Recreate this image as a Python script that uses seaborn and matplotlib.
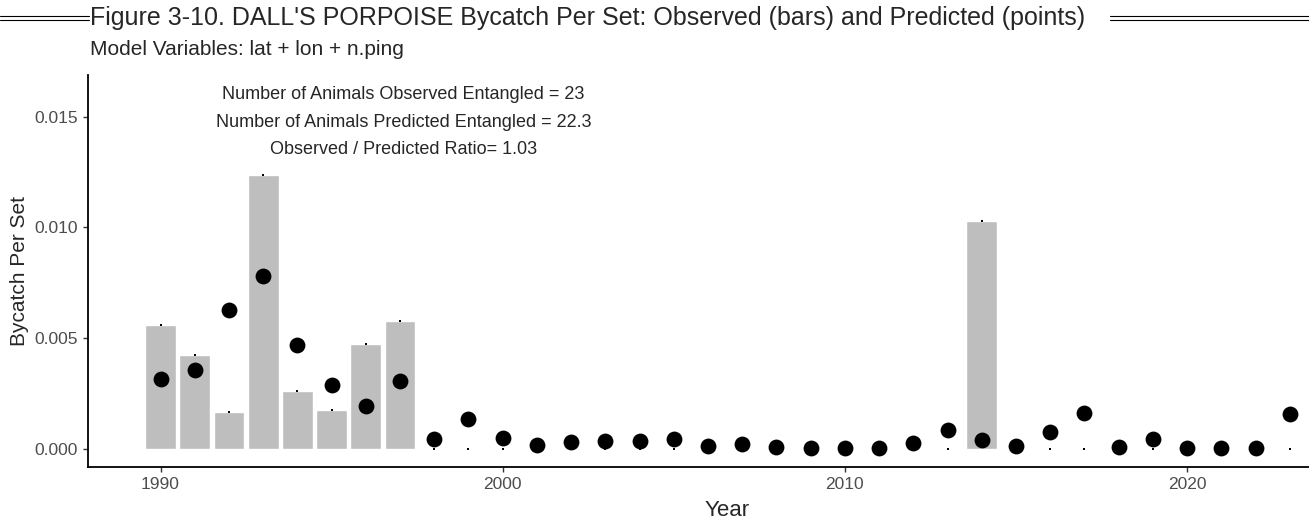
import numpy as np
import pandas as pd
import seaborn as sns
import matplotlib.pyplot as plt
from matplotlib.lines import Line2D

sns.set_style("ticks")
plt.rcParams['font.family'] = ['Liberation Sans', 'DejaVu Sans']

years = list(range(1990, 2024))
# observed bycatch per set (bars), 0 where none observed
observed = [0.0056, 0.00423, 0.00164, 0.01236, 0.00261, 0.00172, 0.00473, 0.00575,
            0, 0, 0, 0, 0, 0, 0, 0, 0, 0, 0, 0, 0, 0, 0, 0,
            0.0103, 0, 0, 0, 0, 0, 0, 0, 0, 0]
# predicted bycatch per set (points)
predicted = [0.00315, 0.00355, 0.00625, 0.00781, 0.0047, 0.00289, 0.0019, 0.00306,
             0.00041, 0.00132, 0.00048, 0.00015, 0.0003, 0.00035, 0.00035, 0.00042,
             0.00012, 0.00021, 0.00009, 0.00003, 0.00001, 0.00004, 0.00026, 0.00083,
             0.00039, 0.00013, 0.00075, 0.00161, 0.00006, 0.00044, 0.00001, 0.00001,
             0.00001, 0.00154]

notes = ["Number of Animals Observed Entangled = 23",
         "Number of Animals Predicted Entangled = 22.3",
         "Observed / Predicted Ratio= 1.03"]

df = pd.DataFrame({"Year": years, "obs": observed, "pred": predicted})

fig = plt.figure(figsize=(13.09, 5.24), dpi=100)
# panel runs past the right edge of the figure (cropped like the original)
ax = fig.add_axes([0.0672, 0.1088, 0.9764, 0.7481])

sns.barplot(data=df, x="Year", y="obs", native_scale=True, width=0.9,
            color="#BEBEBE", saturation=1, errorbar=None, ax=ax)
sns.scatterplot(data=df, x="Year", y="obs", marker="s", s=2, color="black",
                linewidth=0, ax=ax)
sns.scatterplot(data=df, x="Year", y="pred", s=130, color="black",
                linewidth=0, ax=ax)

ax.set_xlim(1987.88, 2025.23)
ax.set_ylim(-0.000835, 0.01688)
ax.set_xticks([1990, 2000, 2010, 2020])
ax.set_yticks([0, 0.005, 0.010, 0.015])
ax.set_yticklabels(["0.000", "0.005", "0.010", "0.015"])
ax.tick_params(axis="both", labelsize=12.5, labelcolor="#4D4D4D", color="#333333",
               length=3.5, width=1)
sns.despine(ax=ax)
for s in ["left", "bottom"]:
    ax.spines[s].set_linewidth(1.3)
    ax.spines[s].set_color("black")
ax.set_xlabel("Year", fontsize=16, labelpad=6)
ax.set_ylabel("Bycatch Per Set", fontsize=15, labelpad=4)

for i, t in enumerate(notes):
    ax.text(1997.1, 0.0160 - i * 0.00125, t, ha="center", va="center", fontsize=13)

fig.text(0.0688, 0.966, "Figure 3-10. DALL'S PORPOISE Bycatch Per Set: Observed (bars) and Predicted (points)",
         fontsize=18, va="center", ha="left")
fig.text(0.0688, 0.905, "Model Variables: lat + lon + n.ping", fontsize=15, va="center", ha="left")
for yy in [0.969, 0.962]:
    fig.add_artist(Line2D([0, 0.068], [yy, yy], color="black", lw=0.8))
    fig.add_artist(Line2D([0.848, 1.0], [yy, yy], color="black", lw=0.8))

fig.savefig("out.png", dpi=100)
